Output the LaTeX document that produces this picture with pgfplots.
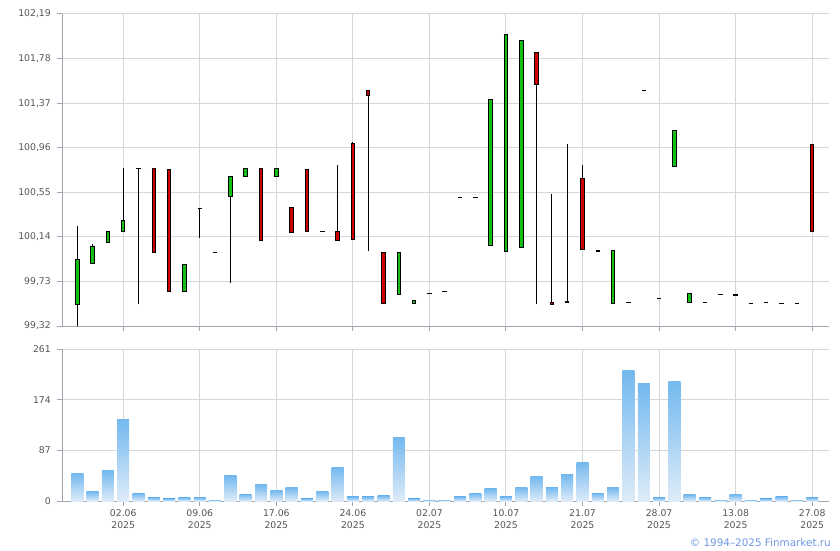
\documentclass[border=0pt]{standalone}
\usepackage{fontspec}
\setmainfont{DejaVu Sans}
\usepackage{pgfplots}
\usepackage{pgfplotstable}
\pgfplotsset{compat=1.18}
\definecolor{gridc}{RGB}{210,215,220}
\definecolor{axisc}{RGB}{160,166,176}
\definecolor{labc}{RGB}{85,85,85}
\definecolor{upc}{RGB}{20,190,20}
\definecolor{downc}{RGB}{205,0,0}
\definecolor{voltop}{RGB}{116,185,239}
\definecolor{volbot}{RGB}{222,235,248}
\definecolor{copyc}{RGB}{110,150,225}

\pgfplotstableread{
x o h l c
0 99.52 100.24 99.32 99.93
1 99.90 100.07 99.90 100.05
2 100.09 100.19 100.09 100.19
3 100.19 100.77 100.19 100.29
4 100.77 100.77 99.52 100.77
7 99.64 99.89 99.64 99.89
8 100.40 100.40 100.13 100.40
9 100.00 100.00 100.00 100.00
10 100.51 100.70 99.72 100.70
11 100.70 100.77 100.70 100.77
13 100.70 100.77 100.70 100.77
16 100.19 100.19 100.19 100.19
21 99.61 100.00 99.61 100.00
22 99.53 99.56 99.53 99.56
23 99.62 99.62 99.62 99.62
24 99.64 99.64 99.64 99.64
25 100.50 100.50 100.50 100.50
26 100.50 100.50 100.50 100.50
27 100.06 101.40 100.06 101.40
28 100.01 102.00 100.01 102.00
29 100.04 101.95 100.04 101.95
32 99.536 100.99 99.536 99.545
34 100.005 100.015 100.005 100.015
35 99.525 100.013 99.525 100.013
36 99.54 99.54 99.54 99.54
37 101.49 101.49 101.49 101.49
38 99.57 99.57 99.57 99.57
39 100.785 101.116 100.785 101.116
40 99.536 99.618 99.536 99.618
41 99.54 99.54 99.54 99.54
42 99.61 99.61 99.61 99.61
43 99.600 99.610 99.600 99.610
44 99.525 99.525 99.525 99.525
45 99.538 99.538 99.538 99.538
46 99.525 99.525 99.525 99.525
47 99.525 99.525 99.525 99.525
}\up

\pgfplotstableread{
x o h l c
5 100.77 100.77 100.00 100.00
6 100.76 100.76 99.64 99.64
12 100.77 100.77 100.105 100.105
14 100.41 100.41 100.18 100.18
15 100.76 100.76 100.19 100.19
17 100.19 100.80 100.10 100.11
18 101.00 101.01 100.12 100.12
19 101.49 101.49 100.01 101.44
20 100.00 100.00 99.53 99.53
30 101.84 101.84 99.52 101.54
31 99.536 100.53 99.517 99.517
33 100.675 100.80 100.022 100.022
48 100.988 100.988 100.193 100.193
}\down

\pgfplotstableread{
x v
0 47
1 16
2 52
3 140
4 12.5
5 5.7
6 3.9
7 5.7
8 5.7
9 2.2
10 43
11 11
12 28
13 18
14 23
15 4
16 16
17 57
18 7
19 7
20 9
21 109
22 4
23 2.2
24 2.2
25 7
26 12.5
27 21
28 7
29 23
30 42
31 23
32 45
33 66
34 12.5
35 23
36 224
37 201
38 5.7
39 206
40 11
41 5.7
42 2.2
43 11
44 2.2
45 4
46 7
47 2.2
48 5.7
}\vol

\pgfplotsset{
  panel/.style={
    scale only axis, width=767pt, xmin=-1, xmax=49.1,
    axis x line*=bottom, axis y line*=left,
    axis line style={axisc, line width=1pt},
    grid=major, major grid style={gridc, line width=1pt},
    tick style={axisc, line width=1pt}, tick align=outside,
    major tick length=5pt,
    xtick={3,8,...,48},
    ticklabel style={font=\fontsize{9.3}{12}\selectfont, text=labc},
    yticklabel style={anchor=east, inner sep=0pt, xshift=-6pt},
  },
  wick/.style={draw=none, mark=none, forget plot,
    error bars/.cd, y dir=plus, y explicit, error mark=none,
    error bar style={draw=black, line width=1pt}},
  bodyout/.style={draw=none, mark=none, forget plot,
    error bars/.cd, y dir=both, y explicit, error mark=none,
    error bar style={draw=black, line width=4.5pt}},
  bodyin/.style={draw=none, mark=none, forget plot,
    error bars/.cd, y dir=both, y explicit, error mark=-,
    error mark options={rotate=90, draw=black, line width=1pt, mark size=2.25pt},
    error bar style={draw=#1, line width=2.5pt}},
}

\begin{document}
\begin{tikzpicture}
\useasboundingbox (0,0) rectangle (840pt,550pt);
\begin{axis}[panel, at={(62pt,224pt)}, anchor=south west, height=312pt,
  ymin=99.32, ymax=102.19,
  ytick={99.32,99.73,100.14,100.55,100.96,101.37,101.78,102.19},
  yticklabels={{99,32},{99,73},{100,14},{100,55},{100,96},{101,37},{101,78},{102,19}},
  xticklabels={}]
\addplot[wick] table[x=x, y=l, y error expr=\thisrow{h}-\thisrow{l}] {\up};
\addplot[wick] table[x=x, y=l, y error expr=\thisrow{h}-\thisrow{l}] {\down};
\addplot[bodyout] table[x=x, y expr=(\thisrow{o}+\thisrow{c})/2, y error expr=abs(\thisrow{c}-\thisrow{o})/2] {\up};
\addplot[bodyin=upc] table[x=x, y expr=(\thisrow{o}+\thisrow{c})/2, y error expr=abs(\thisrow{c}-\thisrow{o})/2] {\up};
\addplot[bodyout] table[x=x, y expr=(\thisrow{o}+\thisrow{c})/2, y error expr=abs(\thisrow{c}-\thisrow{o})/2] {\down};
\addplot[bodyin=downc] table[x=x, y expr=(\thisrow{o}+\thisrow{c})/2, y error expr=abs(\thisrow{c}-\thisrow{o})/2] {\down};
\end{axis}

\begin{axis}[panel, at={(62pt,49pt)}, anchor=south west, height=152pt,
  ymin=0, ymax=261, ytick={0,87,174,261},
  yticklabels={0,87,174,261},
  xticklabels={{02.06\\2025},{09.06\\2025},{17.06\\2025},{24.06\\2025},{02.07\\2025},{10.07\\2025},{21.07\\2025},{28.07\\2025},{13.08\\2025},{27.08\\2025}},
  xticklabel style={align=center, inner sep=0pt, yshift=-3pt}]
\pgfplotsinvokeforeach{0,...,48}{
  \addplot[ybar, bar width=12pt, draw=none, top color=voltop, bottom color=volbot, forget plot,
    x filter/.expression={abs(x-#1)<0.1 ? x : nan}] table[x=x, y=v] {\vol};
}
\end{axis}

\node[anchor=base east, text=copyc, font=\fontsize{10.4}{12}\selectfont, inner sep=0pt] at (831pt,4pt) {© 1994–2025 Finmarket.ru};
\end{tikzpicture}
\end{document}
